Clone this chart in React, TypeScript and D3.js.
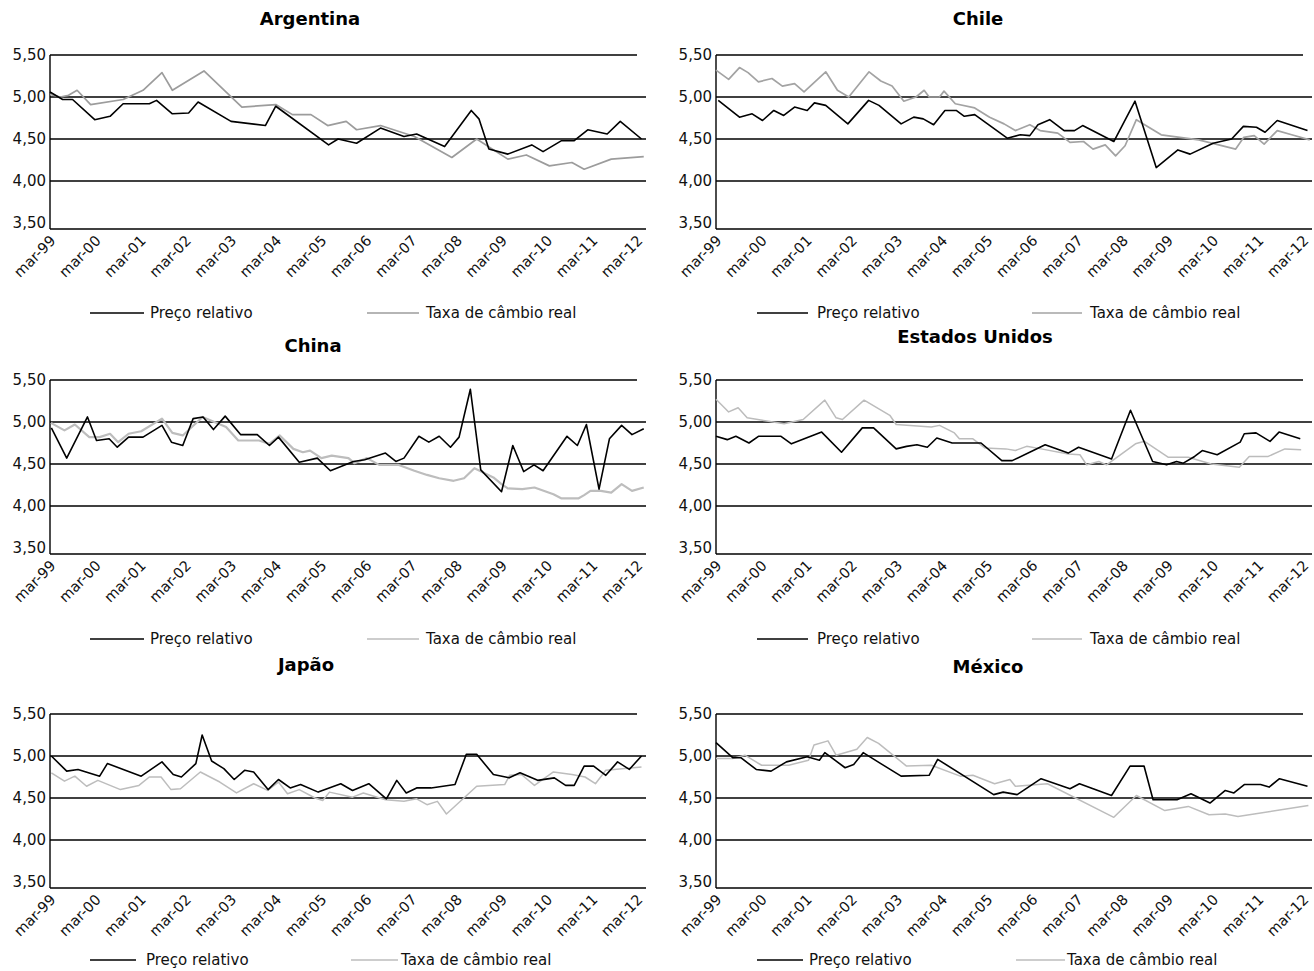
import * as d3 from 'd3'

type Pt = [number, number]

// Years shown on the axis (March of each year) and their labels
const TICK_YEARS = [1999, 2000, 2001, 2002, 2003, 2004, 2005, 2006, 2007, 2008, 2009, 2010, 2011, 2012]
const TICK_LABELS = ['mar-99', 'mar-00', 'mar-01', 'mar-02', 'mar-03', 'mar-04', 'mar-05', 'mar-06', 'mar-07', 'mar-08', 'mar-09', 'mar-10', 'mar-11', 'mar-12']
const Y_TICKS = [3.5, 4, 4.5, 5, 5.5]
const SERIES_NAMES = ['Preço relativo', 'Taxa de câmbio real']
const COUNTRIES = ['Argentina', 'Chile', 'China', 'Estados Unidos', 'Japão', 'México']

// [time in years, value]
const ARG_PRECO: Pt[] = [[1999.0, 5.06], [1999.28, 4.97], [1999.5, 4.97], [1999.99, 4.73], [2000.33, 4.77], [2000.62, 4.92], [2001.2, 4.92], [2001.36, 4.96], [2001.71, 4.8], [2002.07, 4.81], [2002.28, 4.94], [2003.01, 4.71], [2003.77, 4.66], [2004.0, 4.89], [2005.17, 4.43], [2005.38, 4.5], [2005.79, 4.45], [2006.32, 4.63], [2006.84, 4.53], [2007.12, 4.56], [2007.74, 4.41], [2008.33, 4.84], [2008.5, 4.74], [2008.72, 4.38], [2009.14, 4.32], [2009.67, 4.43], [2009.92, 4.35], [2010.33, 4.48], [2010.61, 4.48], [2010.91, 4.61], [2011.34, 4.56], [2011.63, 4.71], [2012.1, 4.5]]
const ARG_CAMBIO: Pt[] = [[1999.0, 5.03], [1999.23, 5.0], [1999.41, 5.02], [1999.6, 5.08], [1999.9, 4.91], [2000.62, 4.97], [2001.06, 5.08], [2001.48, 5.29], [2001.71, 5.08], [2002.41, 5.31], [2003.25, 4.88], [2004.0, 4.91], [2004.37, 4.79], [2004.78, 4.79], [2005.15, 4.66], [2005.56, 4.71], [2005.79, 4.61], [2006.32, 4.66], [2007.07, 4.53], [2007.9, 4.28], [2008.45, 4.5], [2009.14, 4.26], [2009.55, 4.31], [2010.06, 4.18], [2010.56, 4.22], [2010.83, 4.14], [2011.43, 4.26], [2012.15, 4.29]]

const CHI_PRECO: Pt[] = [[1999.05, 4.96], [1999.52, 4.76], [1999.8, 4.8], [2000.03, 4.72], [2000.28, 4.84], [2000.5, 4.78], [2000.74, 4.88], [2001.02, 4.84], [2001.18, 4.93], [2001.43, 4.9], [2001.92, 4.68], [2002.38, 4.96], [2002.61, 4.9], [2003.1, 4.68], [2003.38, 4.76], [2003.59, 4.74], [2003.82, 4.67], [2004.07, 4.84], [2004.32, 4.84], [2004.5, 4.77], [2004.73, 4.79], [2005.45, 4.51], [2005.74, 4.55], [2005.95, 4.54], [2006.13, 4.67], [2006.39, 4.73], [2006.71, 4.6], [2006.94, 4.6], [2007.12, 4.66], [2007.81, 4.47], [2008.28, 4.95], [2008.75, 4.16], [2009.23, 4.37], [2009.5, 4.32], [2010.01, 4.45], [2010.42, 4.5], [2010.68, 4.65], [2010.97, 4.64], [2011.16, 4.58], [2011.43, 4.72], [2012.1, 4.6]]
const CHI_CAMBIO: Pt[] = [[1999.0, 5.32], [1999.28, 5.21], [1999.52, 5.35], [1999.71, 5.29], [1999.94, 5.18], [2000.24, 5.22], [2000.47, 5.13], [2000.74, 5.16], [2000.95, 5.06], [2001.43, 5.3], [2001.69, 5.08], [2001.94, 5.0], [2002.39, 5.3], [2002.65, 5.19], [2002.9, 5.13], [2003.16, 4.95], [2003.43, 5.0], [2003.61, 5.08], [2003.72, 5.0], [2003.95, 5.0], [2004.05, 5.07], [2004.3, 4.92], [2004.73, 4.87], [2005.06, 4.76], [2005.38, 4.68], [2005.63, 4.6], [2005.95, 4.67], [2006.18, 4.6], [2006.57, 4.57], [2006.84, 4.46], [2007.14, 4.47], [2007.35, 4.38], [2007.62, 4.43], [2007.85, 4.3], [2008.06, 4.42], [2008.31, 4.73], [2008.86, 4.55], [2009.69, 4.49], [2010.51, 4.38], [2010.69, 4.52], [2010.92, 4.54], [2011.14, 4.44], [2011.43, 4.6], [2011.75, 4.55], [2012.15, 4.49]]

const CHN_PRECO: Pt[] = [[1999.03, 4.93], [1999.37, 4.57], [1999.83, 5.06], [2000.03, 4.78], [2000.31, 4.8], [2000.49, 4.7], [2000.74, 4.82], [2001.06, 4.82], [2001.48, 4.96], [2001.69, 4.76], [2001.94, 4.72], [2002.17, 5.04], [2002.39, 5.06], [2002.62, 4.91], [2002.88, 5.07], [2003.22, 4.85], [2003.59, 4.85], [2003.86, 4.72], [2004.06, 4.82], [2004.52, 4.52], [2004.92, 4.57], [2005.21, 4.42], [2005.72, 4.53], [2005.97, 4.55], [2006.43, 4.63], [2006.66, 4.53], [2006.84, 4.57], [2007.17, 4.83], [2007.39, 4.76], [2007.62, 4.83], [2007.87, 4.7], [2008.06, 4.82], [2008.31, 5.39], [2008.54, 4.43], [2009.0, 4.17], [2009.25, 4.72], [2009.49, 4.41], [2009.72, 4.49], [2009.92, 4.42], [2010.45, 4.83], [2010.68, 4.72], [2010.88, 4.97], [2011.16, 4.2], [2011.39, 4.8], [2011.66, 4.96], [2011.89, 4.85], [2012.15, 4.92]]
const CHN_CAMBIO: Pt[] = [[1999.02, 4.99], [1999.32, 4.9], [1999.55, 4.97], [1999.87, 4.82], [2000.1, 4.82], [2000.33, 4.86], [2000.51, 4.76], [2000.74, 4.86], [2001.02, 4.89], [2001.48, 5.04], [2001.71, 4.87], [2001.94, 4.84], [2002.38, 5.06], [2002.9, 4.94], [2003.17, 4.78], [2003.63, 4.78], [2003.86, 4.74], [2004.09, 4.84], [2004.39, 4.68], [2004.6, 4.64], [2004.76, 4.66], [2005.01, 4.57], [2005.24, 4.6], [2005.61, 4.57], [2005.74, 4.51], [2006.02, 4.57], [2006.29, 4.49], [2006.71, 4.49], [2007.07, 4.42], [2007.35, 4.37], [2007.62, 4.33], [2007.94, 4.3], [2008.17, 4.33], [2008.4, 4.45], [2008.82, 4.34], [2009.0, 4.26], [2009.14, 4.21], [2009.46, 4.2], [2009.73, 4.22], [2010.15, 4.14], [2010.33, 4.09], [2010.7, 4.09], [2010.83, 4.13], [2010.97, 4.18], [2011.2, 4.18], [2011.43, 4.16], [2011.66, 4.26], [2011.89, 4.18], [2012.15, 4.22]]

const EUA_PRECO: Pt[] = [[1999.0, 4.83], [1999.25, 4.79], [1999.44, 4.83], [1999.73, 4.75], [1999.94, 4.83], [2000.44, 4.83], [2000.67, 4.74], [2001.34, 4.88], [2001.78, 4.64], [2002.24, 4.93], [2002.49, 4.93], [2002.99, 4.68], [2003.22, 4.71], [2003.45, 4.73], [2003.68, 4.7], [2003.89, 4.81], [2004.23, 4.75], [2004.87, 4.75], [2005.33, 4.54], [2005.56, 4.54], [2006.29, 4.73], [2006.8, 4.63], [2007.03, 4.7], [2007.76, 4.56], [2008.18, 5.14], [2008.67, 4.53], [2008.98, 4.49], [2009.2, 4.53], [2009.35, 4.51], [2009.6, 4.59], [2009.77, 4.66], [2010.1, 4.61], [2010.61, 4.76], [2010.7, 4.86], [2010.96, 4.87], [2011.27, 4.77], [2011.47, 4.88], [2011.94, 4.8]]
const EUA_CAMBIO: Pt[] = [[1999.0, 5.27], [1999.28, 5.12], [1999.49, 5.17], [1999.69, 5.05], [2000.51, 4.98], [2000.93, 5.03], [2001.41, 5.26], [2001.66, 5.05], [2001.8, 5.03], [2002.28, 5.26], [2002.85, 5.08], [2002.99, 4.97], [2003.77, 4.94], [2003.95, 4.96], [2004.28, 4.87], [2004.39, 4.8], [2004.69, 4.8], [2004.96, 4.69], [2005.42, 4.68], [2005.63, 4.66], [2005.88, 4.71], [2006.2, 4.68], [2006.8, 4.62], [2007.06, 4.61], [2007.21, 4.49], [2007.48, 4.53], [2007.65, 4.49], [2008.29, 4.74], [2008.49, 4.77], [2009.02, 4.58], [2009.46, 4.58], [2009.97, 4.5], [2010.59, 4.46], [2010.81, 4.59], [2011.23, 4.59], [2011.6, 4.68], [2011.96, 4.67]]

const JAP_PRECO: Pt[] = [[1999.03, 5.0], [1999.37, 4.82], [1999.62, 4.84], [2000.1, 4.76], [2000.27, 4.91], [2001.02, 4.76], [2001.48, 4.93], [2001.73, 4.78], [2001.91, 4.75], [2002.23, 4.91], [2002.37, 5.25], [2002.58, 4.94], [2002.85, 4.85], [2003.08, 4.72], [2003.31, 4.83], [2003.51, 4.81], [2003.83, 4.6], [2004.06, 4.72], [2004.32, 4.62], [2004.55, 4.66], [2004.94, 4.57], [2005.44, 4.67], [2005.7, 4.59], [2006.06, 4.67], [2006.45, 4.49], [2006.68, 4.71], [2006.89, 4.56], [2007.12, 4.62], [2007.44, 4.62], [2007.97, 4.66], [2008.22, 5.02], [2008.45, 5.02], [2008.82, 4.78], [2009.17, 4.74], [2009.41, 4.8], [2009.8, 4.71], [2010.17, 4.74], [2010.42, 4.65], [2010.61, 4.65], [2010.83, 4.88], [2011.04, 4.88], [2011.31, 4.77], [2011.57, 4.93], [2011.83, 4.84], [2012.1, 5.0]]
const JAP_CAMBIO: Pt[] = [[1999.03, 4.8], [1999.32, 4.7], [1999.55, 4.76], [1999.81, 4.64], [2000.06, 4.71], [2000.56, 4.6], [2000.97, 4.65], [2001.2, 4.75], [2001.46, 4.75], [2001.68, 4.6], [2001.89, 4.61], [2002.33, 4.81], [2002.76, 4.69], [2003.13, 4.56], [2003.51, 4.67], [2003.82, 4.59], [2004.06, 4.69], [2004.26, 4.55], [2004.52, 4.6], [2004.87, 4.5], [2005.04, 4.47], [2005.19, 4.57], [2005.7, 4.51], [2005.94, 4.56], [2006.43, 4.48], [2006.84, 4.46], [2007.12, 4.49], [2007.35, 4.42], [2007.58, 4.46], [2007.78, 4.31], [2008.45, 4.64], [2009.07, 4.66], [2009.18, 4.77], [2009.44, 4.78], [2009.73, 4.65], [2010.15, 4.81], [2010.56, 4.78], [2010.85, 4.75], [2011.08, 4.67], [2011.31, 4.83], [2012.1, 4.87]]

const MEX_PRECO: Pt[] = [[1999.0, 5.16], [1999.37, 4.98], [1999.55, 4.98], [1999.89, 4.84], [2000.22, 4.82], [2000.56, 4.93], [2001.02, 4.99], [2001.29, 4.95], [2001.41, 5.04], [2001.86, 4.86], [2002.05, 4.9], [2002.26, 5.04], [2002.65, 4.91], [2003.1, 4.76], [2003.72, 4.77], [2003.91, 4.96], [2005.15, 4.54], [2005.36, 4.57], [2005.67, 4.54], [2006.2, 4.73], [2006.84, 4.61], [2007.05, 4.67], [2007.76, 4.53], [2008.17, 4.88], [2008.48, 4.88], [2008.68, 4.48], [2009.21, 4.48], [2009.52, 4.55], [2009.94, 4.44], [2010.28, 4.59], [2010.47, 4.56], [2010.7, 4.66], [2011.06, 4.66], [2011.25, 4.63], [2011.48, 4.73], [2012.1, 4.64]]
const MEX_CAMBIO: Pt[] = [[1999.0, 4.97], [1999.37, 4.97], [1999.64, 5.01], [2000.01, 4.89], [2000.61, 4.89], [2001.05, 4.95], [2001.17, 5.13], [2001.48, 5.18], [2001.66, 5.01], [2002.12, 5.08], [2002.35, 5.22], [2002.6, 5.15], [2003.22, 4.88], [2003.77, 4.89], [2004.41, 4.76], [2004.69, 4.77], [2005.17, 4.67], [2005.51, 4.72], [2005.63, 4.64], [2006.34, 4.67], [2007.81, 4.27], [2008.31, 4.53], [2008.94, 4.35], [2009.46, 4.4], [2009.92, 4.3], [2010.28, 4.31], [2010.56, 4.28], [2012.12, 4.41]]

const PRECO = [ARG_PRECO, CHI_PRECO, CHN_PRECO, EUA_PRECO, JAP_PRECO, MEX_PRECO]
const CAMBIO = [ARG_CAMBIO, CHI_CAMBIO, CHN_CAMBIO, EUA_CAMBIO, JAP_CAMBIO, MEX_CAMBIO]

// layout of each small chart
const LAYOUT = [
  { left: 50, top: 55, titleX: 310, titleY: 25, legendY: 313, legend: [90, 144, 150, 367, 419, 426], grey: '#9c9c9c', greyWidth: 1.7 },
  { left: 716, top: 55, titleX: 978, titleY: 25, legendY: 313, legend: [757, 808, 817, 1032, 1082, 1090], grey: '#a3a3a3', greyWidth: 1.7 },
  { left: 50, top: 380, titleX: 313, titleY: 352, legendY: 639, legend: [90, 144, 150, 367, 419, 426], grey: '#bdbdbd', greyWidth: 2.2 },
  { left: 716, top: 380, titleX: 975, titleY: 343, legendY: 639, legend: [757, 808, 817, 1032, 1082, 1090], grey: '#bcbcbc', greyWidth: 1.5 },
  { left: 50, top: 714, titleX: 306, titleY: 671, legendY: 960, legend: [90, 136, 146, 351, 398, 401], grey: '#bdbdbd', greyWidth: 1.5 },
  { left: 716, top: 714, titleX: 988, titleY: 673, legendY: 960, legend: [757, 803, 809, 1016, 1065, 1067], grey: '#bdbdbd', greyWidth: 1.5 },
]

const PLOT_W = 596
const PLOT_H = 168
const FONT = '"DejaVu Sans", Verdana, sans-serif'
const fmt = d3.formatLocale({ decimal: ',', thousands: '.', grouping: [3], currency: ['', ''] }).format('.2f')

function Panel({ index }: { index: number }) {
  const L = LAYOUT[index]
  const x = d3.scaleLinear().domain([1999, 2012.2]).range([L.left, L.left + PLOT_W])
  const y = d3.scaleLinear().domain([3.5, 5.5]).range([L.top + PLOT_H, L.top])
  const axisY = L.top + PLOT_H + 6
  const right = L.left + PLOT_W
  const line = d3.line<Pt>().x((d) => x(Math.min(d[0], 2012.2))).y((d) => y(d[1]))
  const [l1, l2, t1, g1, g2, t2] = L.legend

  return (
    <g>
      <text x={L.titleX} y={L.titleY} textAnchor="middle" fontWeight="bold" fontSize={18} fontFamily={FONT}>
        {COUNTRIES[index]}
      </text>

      {Y_TICKS.map((t) => (
        <g key={t}>
          {t > 3.5 && (
            <line x1={L.left} x2={t === 5.5 ? right - 9 : right} y1={y(t)} y2={y(t)} stroke="#000" strokeWidth={1.6} />
          )}
          <text x={L.left - 4} y={y(t)} dy="0.36em" textAnchor="end" fontSize={15} fontFamily={FONT} fill="#111">
            {fmt(t)}
          </text>
        </g>
      ))}

      <line x1={L.left} x2={L.left} y1={y(5.5)} y2={axisY} stroke="#000" strokeWidth={1.4} />
      <line x1={L.left} x2={right} y1={axisY} y2={axisY} stroke="#000" strokeWidth={1.6} />

      {TICK_YEARS.map((yr, i) => (
        <text
          key={yr}
          transform={`translate(${x(yr) + 3},${axisY + 9}) rotate(-45)`}
          textAnchor="end"
          dy="0.35em"
          fontSize={14.5}
          fontFamily={FONT}
          fill="#111"
        >
          {TICK_LABELS[i]}
        </text>
      ))}

      <path d={line(CAMBIO[index]) ?? undefined} fill="none" stroke={L.grey} strokeWidth={L.greyWidth} strokeLinejoin="round" />
      <path d={line(PRECO[index]) ?? undefined} fill="none" stroke="#000" strokeWidth={1.6} strokeLinejoin="round" />

      <line x1={l1} x2={l2} y1={L.legendY} y2={L.legendY} stroke="#000" strokeWidth={1.6} />
      <text x={t1} y={L.legendY} dy="0.36em" fontSize={15} fontFamily={FONT} fill="#111">
        {SERIES_NAMES[0]}
      </text>
      <line x1={g1} x2={g2} y1={L.legendY} y2={L.legendY} stroke={L.grey} strokeWidth={1.6} />
      <text x={t2} y={L.legendY} dy="0.36em" fontSize={15} fontFamily={FONT} fill="#111">
        {SERIES_NAMES[1]}
      </text>
    </g>
  )
}

export default function App() {
  return (
    <svg
      width={1314}
      height={971}
      viewBox="0 0 1314 971"
      style={{ position: 'absolute', left: 0, top: 0, display: 'block', background: '#fff' }}
    >
      <rect width={1314} height={971} fill="#fff" />
      {COUNTRIES.map((c, i) => (
        <Panel key={c} index={i} />
      ))}
    </svg>
  )
}
